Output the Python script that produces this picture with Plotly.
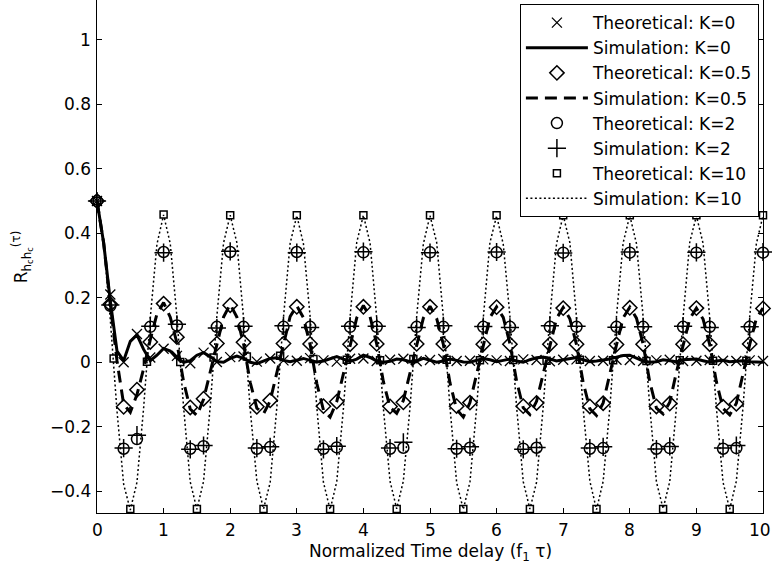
import plotly.graph_objects as go

# ---------------- data ----------------
tau_th = [round(0.2 * i, 1) for i in range(51)]      # theoretical / K=2 sim sample points
tau_k10 = [0.25 * i for i in range(41)]               # K=10 theoretical sample points
tau_sim = [round(0.1 * i, 1) for i in range(101)]     # simulation curves

th_k0 = [0.500, 0.210, 0.000, 0.088, 0.015,
         0.042, 0.020, -0.003, 0.030, 0.001,
         0.016, 0.018, 0.002, 0.012, 0.006,
         0.005, 0.013, 0.006, 0.002, 0.011,
         0.012, 0.004, 0.008, 0.011, 0.003,
         0.007, 0.010, 0.004, 0.005, 0.009,
         0.006, 0.004, 0.009, 0.007, 0.003,
         0.008, 0.009, 0.004, 0.005, 0.008,
         0.007, 0.004, 0.006, 0.008, 0.004,
         0.005, 0.007, 0.005, 0.004, 0.006,
         0.004]

sim_k0 = [0.500, 0.370, 0.190, 0.035, 0.005, 0.065, 0.085, 0.040, 0.005, 0.022,
          0.043, 0.035, 0.012, 0.000, 0.005, 0.022, 0.030, 0.018, 0.002, 0.000,
          0.012, 0.019, 0.012, 0.000, -0.004, 0.003, 0.012, 0.014, 0.006, 0.002,
          0.008, 0.012, 0.006, 0.001, 0.004, 0.012, 0.018, 0.010, 0.003, 0.010,
          0.022, 0.015, 0.004, 0.000, 0.003, 0.010, 0.008, 0.002, 0.004, 0.012,
          0.006, 0.000, 0.004, 0.010, 0.006, 0.001, 0.000, 0.006, 0.012, 0.008,
          0.002, 0.006, 0.010, 0.004, 0.000, 0.008, 0.014, 0.016, 0.010, 0.004,
          0.008, 0.012, 0.015, 0.008, 0.002, 0.004, 0.006, 0.010, 0.016, 0.021,
          0.022, 0.012, 0.004, 0.000, 0.002, 0.008, 0.004, 0.002, 0.008, 0.010,
          0.010, 0.005, 0.000, 0.004, 0.006, 0.002, 0.003, 0.005, 0.002, 0.001,
          0.000]

th_k05 = [0.500, 0.180, -0.138, -0.085, 0.063,
          0.182, 0.078, -0.140, -0.113, 0.058,
          0.177, 0.062, -0.138, -0.118, 0.058,
          0.172, 0.057, -0.136, -0.122, 0.056,
          0.172, 0.057, -0.137, -0.124, 0.057,
          0.172, 0.057, -0.136, -0.125, 0.056,
          0.171, 0.056, -0.136, -0.126, 0.056,
          0.168, 0.056, -0.137, -0.127, 0.055,
          0.169, 0.056, -0.137, -0.128, 0.056,
          0.168, 0.056, -0.138, -0.129, 0.057,
          0.167]

sim_k05 = [0.500, 0.370, 0.180, 0.005, -0.130, -0.155, -0.100, -0.020, 0.070, 0.150,
           0.185, 0.140, 0.060, -0.060, -0.145, -0.165, -0.115, -0.030, 0.060, 0.140,
           0.180, 0.140, 0.058, -0.062, -0.142, -0.160, -0.120, -0.035, 0.058, 0.142,
           0.175, 0.138, 0.055, -0.065, -0.148, -0.170, -0.122, -0.032, 0.056, 0.138,
           0.176, 0.141, 0.057, -0.060, -0.140, -0.158, -0.118, -0.030, 0.059, 0.137,
           0.174, 0.136, 0.056, -0.064, -0.146, -0.170, -0.125, -0.036, 0.055, 0.139,
           0.172, 0.139, 0.058, -0.058, -0.141, -0.162, -0.121, -0.033, 0.057, 0.136,
           0.170, 0.135, 0.055, -0.063, -0.144, -0.165, -0.126, -0.034, 0.054, 0.138,
           0.171, 0.137, 0.056, -0.061, -0.142, -0.160, -0.124, -0.031, 0.056, 0.135,
           0.168, 0.134, 0.055, -0.060, -0.143, -0.163, -0.127, -0.035, 0.055, 0.136,
           0.168]

th_k2 = [0.500, 0.175, -0.268, -0.238, 0.110,
         0.342, 0.114, -0.268, -0.260, 0.110,
         0.342, 0.110, -0.268, -0.263, 0.110,
         0.342, 0.110, -0.268, -0.264, 0.110,
         0.341, 0.110, -0.268, -0.265, 0.110,
         0.341, 0.110, -0.268, -0.265, 0.110,
         0.341, 0.110, -0.268, -0.265, 0.110,
         0.340, 0.110, -0.268, -0.266, 0.110,
         0.340, 0.110, -0.268, -0.266, 0.110,
         0.340, 0.110, -0.268, -0.266, 0.110,
         0.340]

sim_k2 = [0.500, 0.178, -0.266, -0.226, 0.112,
          0.340, 0.118, -0.270, -0.258, 0.106,
          0.344, 0.112, -0.266, -0.262, 0.113,
          0.340, 0.108, -0.270, -0.260, 0.112,
          0.343, 0.112, -0.266, -0.248, 0.108,
          0.340, 0.113, -0.268, -0.262, 0.111,
          0.342, 0.108, -0.270, -0.264, 0.113,
          0.339, 0.112, -0.266, -0.262, 0.109,
          0.342, 0.110, -0.269, -0.261, 0.112,
          0.341, 0.108, -0.266, -0.258, 0.110,
          0.342]

th_k10 = [0.500, 0.012, -0.455, 0.002,
          0.458, 0.001, -0.455, 0.015,
          0.456, 0.018, -0.455, 0.020,
          0.456, 0.010, -0.455, 0.008,
          0.456, 0.006, -0.455, 0.010,
          0.456, 0.008, -0.455, 0.006,
          0.456, 0.007, -0.455, 0.005,
          0.456, 0.008, -0.455, 0.006,
          0.456, 0.004, -0.455, 0.006,
          0.456, 0.005, -0.455, 0.005,
          0.456]

sim_k10 = [0.500, 0.372, 0.132, -0.150, -0.378, -0.458, -0.372, -0.142, 0.138, 0.366,
           0.457, 0.368, 0.141, -0.139, -0.371, -0.456, -0.369, -0.137, 0.143, 0.370,
           0.456, 0.371, 0.138, -0.144, -0.368, -0.455, -0.373, -0.140, 0.139, 0.369,
           0.455, 0.367, 0.142, -0.138, -0.372, -0.457, -0.370, -0.143, 0.141, 0.372,
           0.456, 0.370, 0.137, -0.142, -0.369, -0.454, -0.368, -0.139, 0.142, 0.367,
           0.455, 0.372, 0.140, -0.140, -0.373, -0.456, -0.371, -0.141, 0.137, 0.371,
           0.454, 0.366, 0.143, -0.137, -0.370, -0.455, -0.372, -0.138, 0.140, 0.368,
           0.456, 0.371, 0.139, -0.143, -0.368, -0.457, -0.369, -0.142, 0.143, 0.370,
           0.455, 0.368, 0.141, -0.139, -0.371, -0.454, -0.370, -0.140, 0.138, 0.372,
           0.454, 0.369, 0.138, -0.141, -0.372, -0.456, -0.368, -0.139, 0.141, 0.367,
           0.455]

x_tick_vals = list(range(0, 11))
x_tick_text = [str(v) for v in x_tick_vals]
y_tick_vals = [-0.4, -0.2, 0, 0.2, 0.4, 0.6, 0.8, 1]
y_tick_text = ["\u22120.4", "\u22120.2", "0", "0.2", "0.4", "0.6", "0.8", "1"]

# ---------------- figure ----------------
FONT = "DejaVu Sans"
BLK = "black"

fig = go.Figure()

fig.add_trace(go.Scatter(x=tau_th, y=th_k0, mode="markers", name="Theoretical: K=0",
                         cliponaxis=False,
                         marker=dict(symbol="x-thin-open", size=10, color=BLK,
                                     line=dict(width=1.3, color=BLK))))
fig.add_trace(go.Scatter(x=tau_sim, y=sim_k0, mode="lines", name="Simulation: K=0",
                         line=dict(color=BLK, width=3)))
fig.add_trace(go.Scatter(x=tau_th, y=th_k05, mode="markers", name="Theoretical: K=0.5",
                         cliponaxis=False,
                         marker=dict(symbol="diamond-open", size=11, color=BLK,
                                     line=dict(width=1.5, color=BLK))))
fig.add_trace(go.Scatter(x=tau_sim, y=sim_k05, mode="lines", name="Simulation: K=0.5",
                         line=dict(color=BLK, width=3, dash="12px,7px")))
fig.add_trace(go.Scatter(x=tau_th, y=th_k2, mode="markers", name="Theoretical: K=2",
                         cliponaxis=False,
                         marker=dict(symbol="circle-open", size=11, color=BLK,
                                     line=dict(width=1.5, color=BLK))))
fig.add_trace(go.Scatter(x=tau_th, y=sim_k2, mode="markers", name="Simulation: K=2",
                         cliponaxis=False,
                         marker=dict(symbol="cross-thin-open", size=13, color=BLK,
                                     line=dict(width=1.5, color=BLK))))
fig.add_trace(go.Scatter(x=tau_k10, y=th_k10, mode="markers", name="Theoretical: K=10",
                         cliponaxis=False,
                         marker=dict(symbol="square-open", size=7, color=BLK,
                                     line=dict(width=1.5, color=BLK))))
fig.add_trace(go.Scatter(x=tau_sim, y=sim_k10, mode="lines", name="Simulation: K=10",
                         line=dict(color=BLK, width=1.5, dash="2px,2.5px")))

axis_font = dict(family=FONT, size=17, color=BLK)

# tick labels placed as annotations for exact spacing from the axes
tick_annots = []
for i, (v, t) in enumerate(zip(x_tick_vals, x_tick_text)):
    last = i == len(x_tick_vals) - 1
    tick_annots.append(dict(text=t, x=v, xref="x", y=-0.0331, yref="paper",
                            xanchor="center", yanchor="middle", showarrow=False,
                            xshift=-3 if last else 0, font=axis_font))
for v, t in zip(y_tick_vals, y_tick_text):
    tick_annots.append(dict(text=t, x=-0.0065, xref="paper", y=v, yref="y",
                            xanchor="right", yanchor="middle", showarrow=False,
                            font=axis_font))

fig.update_layout(
    width=772, height=569,
    margin=dict(l=97, r=9, t=0, b=56),
    paper_bgcolor="white", plot_bgcolor="white",
    font=axis_font,
    xaxis=dict(range=[0, 10], tickmode="array", tickvals=x_tick_vals,
               ticks="inside", ticklen=5, tickcolor=BLK, tickwidth=1,
               showline=True, linecolor=BLK, linewidth=1, mirror=False,
               showgrid=False, zeroline=False, showticklabels=False),
    xaxis2=dict(range=[0, 10], overlaying="x", side="top", anchor="y",
                tickmode="array", tickvals=x_tick_vals,
                ticks="inside", ticklen=5, tickcolor=BLK, tickwidth=1,
                showline=False, showticklabels=False, showgrid=False, zeroline=False),
    yaxis=dict(range=[-0.4673, 1.1234], tickmode="array", tickvals=y_tick_vals,
               ticks="inside", ticklen=5, tickcolor=BLK, tickwidth=1,
               showline=True, linecolor=BLK, linewidth=1, mirror="ticks",
               showgrid=False, zeroline=False, showticklabels=False),
    legend=dict(x=0.635, y=0.992, xanchor="left", yanchor="top",
                bgcolor="white", bordercolor=BLK, borderwidth=1,
                font=dict(family=FONT, size=17, color=BLK),
                itemwidth=62, tracegroupgap=0),
    annotations=tick_annots + [
        dict(text="Normalized Time delay (f<sub>1</sub> \u03c4)", xref="paper", yref="paper",
             x=0.5, y=-0.077, xanchor="center", yanchor="middle", showarrow=False,
             font=axis_font),
        dict(text="R<sub>h<sub>c</sub>h<sub>c</sub></sub><sup>(\u03c4)</sup>",
             xref="paper", yref="paper",
             x=-0.113, y=0.50, xanchor="center", yanchor="middle", showarrow=False,
             textangle=-90, font=axis_font),
    ],
)

fig.write_html("out.html")
